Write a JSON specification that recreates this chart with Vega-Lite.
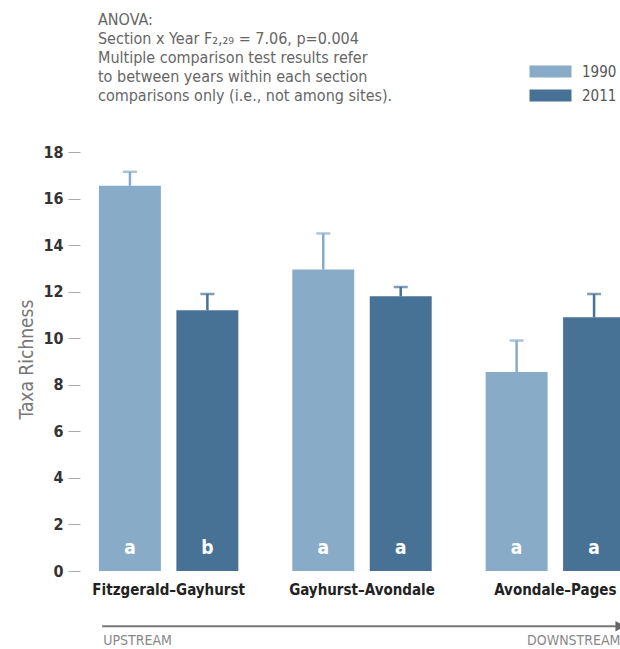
{
  "$schema": "https://vega.github.io/schema/vega-lite/v6.json",
  "autosize": "none",
  "width": 540,
  "height": 419,
  "padding": {"left": 80, "top": 152, "right": 0, "bottom": 78},
  "background": "white",
  "config": {
    "font": "DejaVu Sans Condensed, sans-serif",
    "view": {"stroke": null}
  },
  "data": {
    "values": [
      {"section": "Fitzgerald–Gayhurst", "year": "1990", "value": 16.55, "upper": 17.15, "letter": "a"},
      {"section": "Fitzgerald–Gayhurst", "year": "2011", "value": 11.2, "upper": 11.9, "letter": "b"},
      {"section": "Gayhurst–Avondale", "year": "1990", "value": 12.95, "upper": 14.5, "letter": "a"},
      {"section": "Gayhurst–Avondale", "year": "2011", "value": 11.8, "upper": 12.2, "letter": "a"},
      {"section": "Avondale–Pages", "year": "1990", "value": 8.55, "upper": 9.9, "letter": "a"},
      {"section": "Avondale–Pages", "year": "2011", "value": 10.9, "upper": 11.9, "letter": "a"}
    ]
  },
  "layer": [
    {
      "encoding": {
        "x": {
          "field": "section",
          "type": "nominal",
          "sort": null,
          "scale": {"range": [0, 564], "paddingInner": 0.279, "paddingOuter": 0.098},
          "axis": {
            "title": null,
            "ticks": false,
            "domain": false,
            "labelAngle": 0,
            "labelPadding": 11,
            "labelFontSize": 15,
            "labelFontWeight": "bold",
            "labelColor": "#222222"
          }
        },
        "xOffset": {
          "field": "year",
          "type": "nominal",
          "scale": {"paddingInner": 0.2, "paddingOuter": 0}
        },
        "color": {
          "field": "year",
          "type": "nominal",
          "scale": {"domain": ["1990", "2011"], "range": ["#88acc8", "#477296"]},
          "legend": {
            "orient": "none",
            "legendX": 463,
            "legendY": -88,
            "title": null,
            "symbolType": "M-4.2,-1.2H4.2V1.2H-4.2Z",
            "symbolSize": 100,
            "symbolStrokeWidth": 0,
            "symbolOpacity": 1,
            "labelFontSize": 15,
            "labelColor": "#555555",
            "labelOffset": 24,
            "rowPadding": 8
          }
        }
      },
      "layer": [
        {
          "mark": {"type": "bar", "opacity": 1},
          "encoding": {
            "y": {
              "field": "value",
              "type": "quantitative",
              "scale": {"domain": [0, 18]},
              "axis": {
                "title": "Taxa Richness",
                "values": [0, 2, 4, 6, 8, 10, 12, 14, 16, 18],
                "grid": false,
                "domain": false,
                "tickColor": "#aaaaaa",
                "tickSize": 12,
                "tickWidth": 1,
                "labelPadding": 5,
                "labelFontSize": 16,
                "labelFontWeight": "bold",
                "labelColor": "#333333",
                "titleFontSize": 19,
                "titleFontWeight": "normal",
                "titleColor": "#777777",
                "titleX": -48,
                "titleY": 207,
                "titleAlign": "center",
                "titleBaseline": "alphabetic",
                "titleAngle": -90
              }
            }
          }
        },
        {
          "mark": {"type": "rule", "strokeWidth": 2.5},
          "encoding": {
            "y": {"field": "value", "type": "quantitative"},
            "y2": {"field": "upper"}
          }
        },
        {
          "mark": {"type": "tick", "orient": "horizontal", "size": 14, "thickness": 2.5},
          "encoding": {
            "y": {"field": "upper", "type": "quantitative"}
          }
        },
        {
          "mark": {"type": "text", "fontSize": 19, "fontWeight": "bold", "baseline": "middle"},
          "encoding": {
            "y": {"datum": 1, "type": "quantitative"},
            "text": {"field": "letter"},
            "color": {"value": "white"}
          }
        }
      ]
    },
    {
      "data": {"values": [{}]},
      "layer": [
        {
          "mark": {
            "type": "text",
            "text": [
              "ANOVA:",
              "Section x Year F₂,₂₉ = 7.06, p=0.004",
              "Multiple comparison test results refer",
              "to between years within each section",
              "comparisons only (i.e., not among sites)."
            ],
            "align": "left",
            "baseline": "top",
            "fontSize": 16,
            "lineHeight": 19,
            "color": "#666666"
          },
          "encoding": {
            "x": {"datum": 3.33, "type": "quantitative", "scale": {"domain": [0, 100]}, "axis": null},
            "y": {"datum": 24.0, "type": "quantitative"}
          }
        },
        {
          "mark": {"type": "rule", "color": "#777777", "strokeWidth": 2},
          "encoding": {
            "x": {"datum": 4.1, "type": "quantitative", "axis": null},
            "x2": {"datum": 100},
            "y": {"datum": -2.37, "type": "quantitative"}
          }
        },
        {
          "mark": {"type": "point", "shape": "triangle-right", "filled": true, "color": "#666666", "size": 110, "opacity": 1},
          "encoding": {
            "x": {"datum": 100, "type": "quantitative", "axis": null},
            "y": {"datum": -2.37, "type": "quantitative"}
          }
        },
        {
          "mark": {"type": "text", "text": "UPSTREAM", "align": "left", "baseline": "middle", "fontSize": 14, "color": "#888888"},
          "encoding": {
            "x": {"datum": 4.3, "type": "quantitative", "axis": null},
            "y": {"datum": -3.0, "type": "quantitative"}
          }
        },
        {
          "mark": {"type": "text", "text": "DOWNSTREAM", "align": "left", "baseline": "middle", "fontSize": 14, "color": "#888888"},
          "encoding": {
            "x": {"datum": 82.8, "type": "quantitative", "axis": null},
            "y": {"datum": -3.0, "type": "quantitative"}
          }
        }
      ]
    }
  ],
  "resolve": {"scale": {"x": "independent"}}
}
